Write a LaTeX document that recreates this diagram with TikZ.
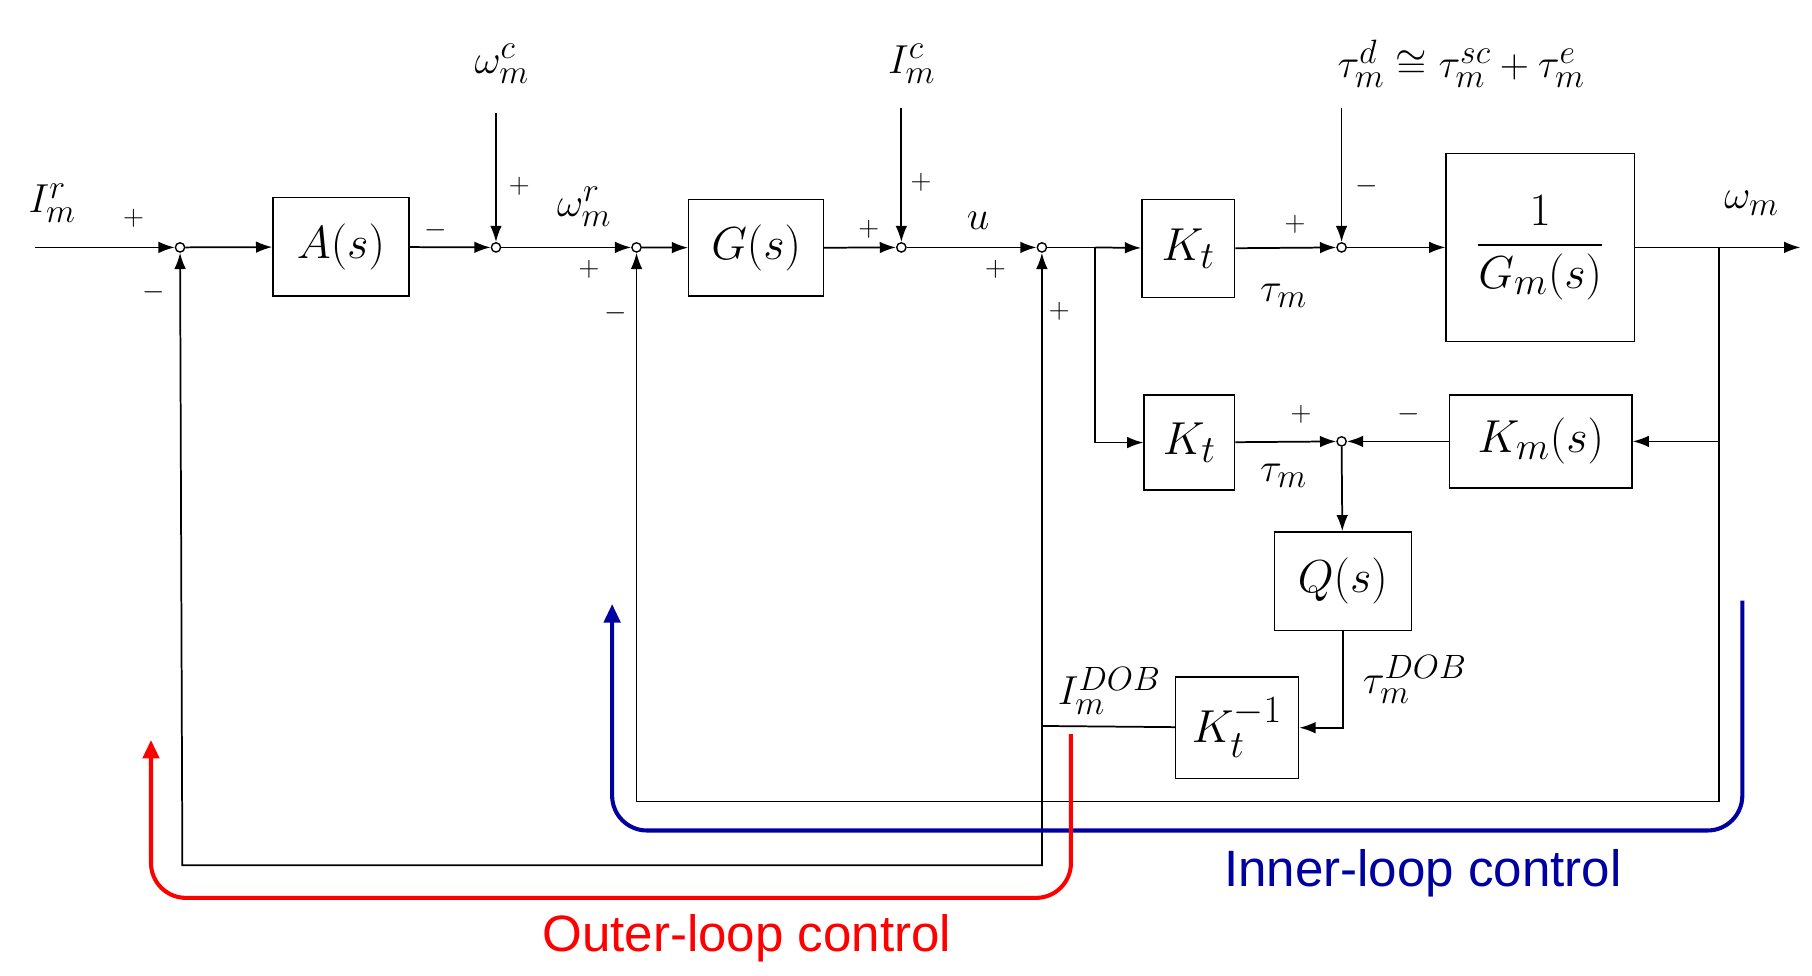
\documentclass[tikz,border=0pt]{standalone}
\usepackage{amsmath}
\usepackage{fontspec}
\newfontfamily\lsans{Liberation Sans}
\usetikzlibrary{arrows.meta}
\newcommand{\BX}[1]{\scalebox{1.6}{\fontsize{24.88}{30}\selectfont$#1$}}
\newcommand{\LB}[1]{\scalebox{1.4}{\fontsize{24.88}{30}\selectfont$#1$}}
\begin{document}
\begin{tikzpicture}[x=1pt,y=-1pt,
  blk/.style={draw,line width=1.2pt,inner sep=0pt},
  sm/.style={draw,circle,minimum size=8pt,inner sep=0pt,line width=1.2pt,fill=white},
  sig/.style={font=\fontsize{24.88}{28}\selectfont,inner sep=0pt},
  lab/.style={inner sep=0pt},
  ar/.style={line width=1.5pt,-{Latex[length=14pt,width=10pt]}},
  ln/.style={line width=1.5pt},
  loop/.style={line width=3.5pt,rounded corners=30pt,-{Triangle[length=16pt,width=14pt]}}]
\useasboundingbox (0,0) rectangle (1560,840);
% blocks
\node[blk,minimum width=117pt,minimum height=85pt] (A) at (293.5,212.5) {\BX{A(s)}};
\node[blk,minimum width=116pt,minimum height=83pt] (G) at (651,213.5) {\BX{G(s)}};
\node[blk,minimum width=80pt,minimum height=84pt] (K1) at (1023,214) {\BX{K_t}};
\node[blk,minimum width=162pt,minimum height=162pt] (Gm) at (1326,213) {\BX{\dfrac{1}{G_m(s)}}};
\node[blk,minimum width=78pt,minimum height=82pt] (K2) at (1024,381) {\BX{K_t}};
\node[blk,minimum width=157pt,minimum height=80pt] (Km) at (1326.5,380) {\BX{K_m(s)}};
\node[blk,minimum width=118pt,minimum height=85pt] (Q) at (1156,500.5) {\BX{Q(s)}};
\node[blk,minimum width=106pt,minimum height=87pt] (Ki) at (1065,626.5) {\BX{K_t^{-1}}};
% sums
\node[sm] (s1) at (155,213) {};
\node[sm] (s2) at (427,213) {};
\node[sm] (s3) at (548,213) {};
\node[sm] (s4) at (776,213) {};
\node[sm] (s5) at (897,213) {};
\node[sm] (s6) at (1155,213) {};
\node[sm] (s7) at (1155,380) {};
% coordinates
\coordinate (in) at (30,213);
\coordinate (wc) at (427,97);
\coordinate (ic) at (776,93);
\coordinate (dd) at (1155,93);
\coordinate (out) at (1550,213);
\coordinate (br) at (943,213);
\coordinate (bo) at (1480,213);
\coordinate (jd) at (897,625);
% main path
\draw[ar] (in) -- (s1);
\draw[ar] (s1) -- (A);
\draw[ar] (A) -- (s2);
\draw[ar] (wc) -- (s2);
\draw[ar] (s2) -- (s3);
\draw[ar] (s3) -- (G);
\draw[ar] (G) -- (s4);
\draw[ar] (ic) -- (s4);
\draw[ar] (s4) -- (s5);
\draw[ln] (s5) -- (br);
\draw[ar] (br) -- (K1);
\draw[ar] (K1) -- (s6);
\draw[ar] (dd) -- (s6);
\draw[ar] (s6) -- (Gm);
\draw[ar] (Gm) -- (out);
\draw[ar] (br) |- (K2);
\draw[ar] (K2) -- (s7);
\draw[ar] (bo) |- (Km);
\draw[ar] (Km) -- (s7);
\draw[ar] (s7) -- (Q);
\draw[ar] (Q.south) |- (Ki.east);
\draw[ln] (Ki) -- (jd);
\draw[ar] (897,745) -- (s5);
\draw[ar] (jd) |- (157,745) -- (s1);
\draw[ar] (bo) |- (548,690) -- (s3);
% signs
\node[sig] at (115,188) {$+$};
\node[sig] at (132,252) {$-$};
\node[sig] at (375,198) {$-$};
\node[sig] at (447,160) {$+$};
\node[sig] at (507,232) {$+$};
\node[sig] at (530,270) {$-$};
\node[sig] at (748,197) {$+$};
\node[sig] at (793,157) {$+$};
\node[sig] at (857,232) {$+$};
\node[sig] at (912,268) {$+$};
\node[sig] at (1115,193) {$+$};
\node[sig] at (1177,160) {$-$};
\node[sig] at (1120,357) {$+$};
\node[sig] at (1213,357) {$-$};
% labels
\node[lab] at (45,175) {\LB{I_m^r}};
\node[lab] at (432,55) {\LB{\omega_m^c}};
\node[lab] at (503,178) {\LB{\omega_m^r}};
\node[lab] at (785,55) {\LB{I_m^c}};
\node[lab] at (842,190) {\LB{u}};
\node[lab] at (1105,255) {\LB{\tau_m}};
\node[lab] at (1258,55) {\LB{\tau_m^d\cong\tau_m^{sc}+\tau_m^e}};
\node[lab] at (1508,175) {\LB{\omega_m}};
\node[lab] at (1105,410) {\LB{\tau_m}};
\node[lab] at (1218,585) {\LB{\tau_m^{DOB}}};
\node[lab] at (955,595) {\LB{I_m^{DOB}}};
% loop arrows
\draw[loop,color={rgb,255:red,0;green,0;blue,160}] (1500,517) |- (527,715) -- (527,520);
\draw[loop,color={rgb,255:red,255;green,0;blue,0}] (922,632) |- (130,773) -- (130,637);
\node[font=\lsans\fontsize{44}{48}\selectfont,text={rgb,255:red,0;green,0;blue,160}] (il) at (1225,752) {Inner-loop control};
\node[font=\lsans\fontsize{44}{48}\selectfont,text=red] (ol) at (643,808) {Outer-loop control};
\end{tikzpicture}
\end{document}
